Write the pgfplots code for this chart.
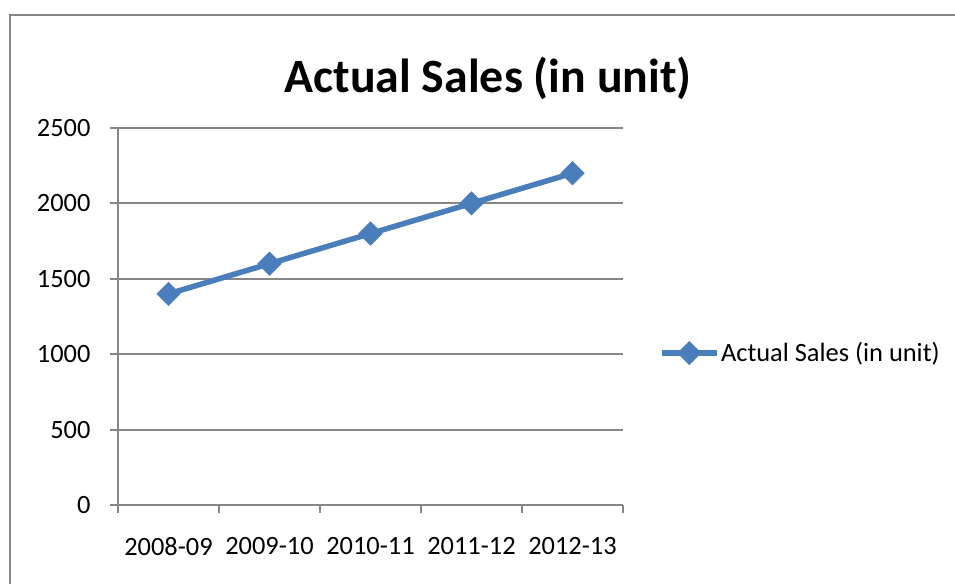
\documentclass[border=0pt]{standalone}
\usepackage{fontspec}
\setmainfont{Carlito}
\usepackage{pgfplots}
\pgfplotsset{compat=1.18}
\definecolor{serieblue}{HTML}{4A7EBB}
\definecolor{axisgray}{HTML}{868686}

\begin{document}
\begin{tikzpicture}[x=1bp,y=1bp]
\useasboundingbox (0,0) rectangle (955,584);
% chart frame (left and top edges)
\draw[axisgray, line width=2.5bp] (10,-5) -- (10,569) -- (960,569);
\node[font=\fontsize{48}{56}\selectfont\bfseries, anchor=base] at (488,491) {Actual Sales (in unit)};
% lower left corner of the plot area
\coordinate (plotorigin) at (118,79);
\begin{axis}[
  at={(plotorigin)}, anchor=south west,
  scale only axis, width=505bp, height=377bp,
  xmin=-0.5, xmax=4.5, ymin=0, ymax=2500,
  xtick={0,...,4},
  xticklabels={2008-09,2009-10,2010-11,2011-12,2012-13},
  minor xtick={-0.5,0.5,1.5,2.5,3.5,4.5},
  ytick={0,500,...,2500},
  axis x line*=bottom, axis y line*=left,
  axis line style={axisgray, line width=2bp},
  ymajorgrids, grid style={axisgray, line width=2bp},
  tick align=outside, major tick length=8bp, minor tick length=8bp,
  tick style={axisgray, line width=2bp},
  major x tick style={draw=none},
  /pgf/number format/assume math mode=true,
  /pgf/number format/set thousands separator={},
  ticklabel style={font=\fontsize{26.5}{30}\selectfont, text=black},
  yticklabel style={xshift=-16bp},
  xticklabel style={yshift=-21bp},
  legend style={at={(1.071,0.403)}, anchor=west, draw=none, fill=none,
    font=\fontsize{26.5}{30}\selectfont, inner sep=0pt,
    nodes={inner sep=1.5bp}},
  legend image code/.code={%
    \draw[mark repeat=2,mark phase=2,#1] plot coordinates {(0bp,0bp) (27.5bp,0bp) (55bp,0bp)};},
]
\addplot[serieblue, line width=5.5bp, mark=square*, mark size=8.3bp,
  mark options={rotate=45, line width=0.5bp}]
  coordinates {(0,1400) (1,1600) (2,1800) (3,2000) (4,2200)};
\addlegendentry{Actual Sales (in unit)}
\end{axis}
\end{tikzpicture}
\end{document}
